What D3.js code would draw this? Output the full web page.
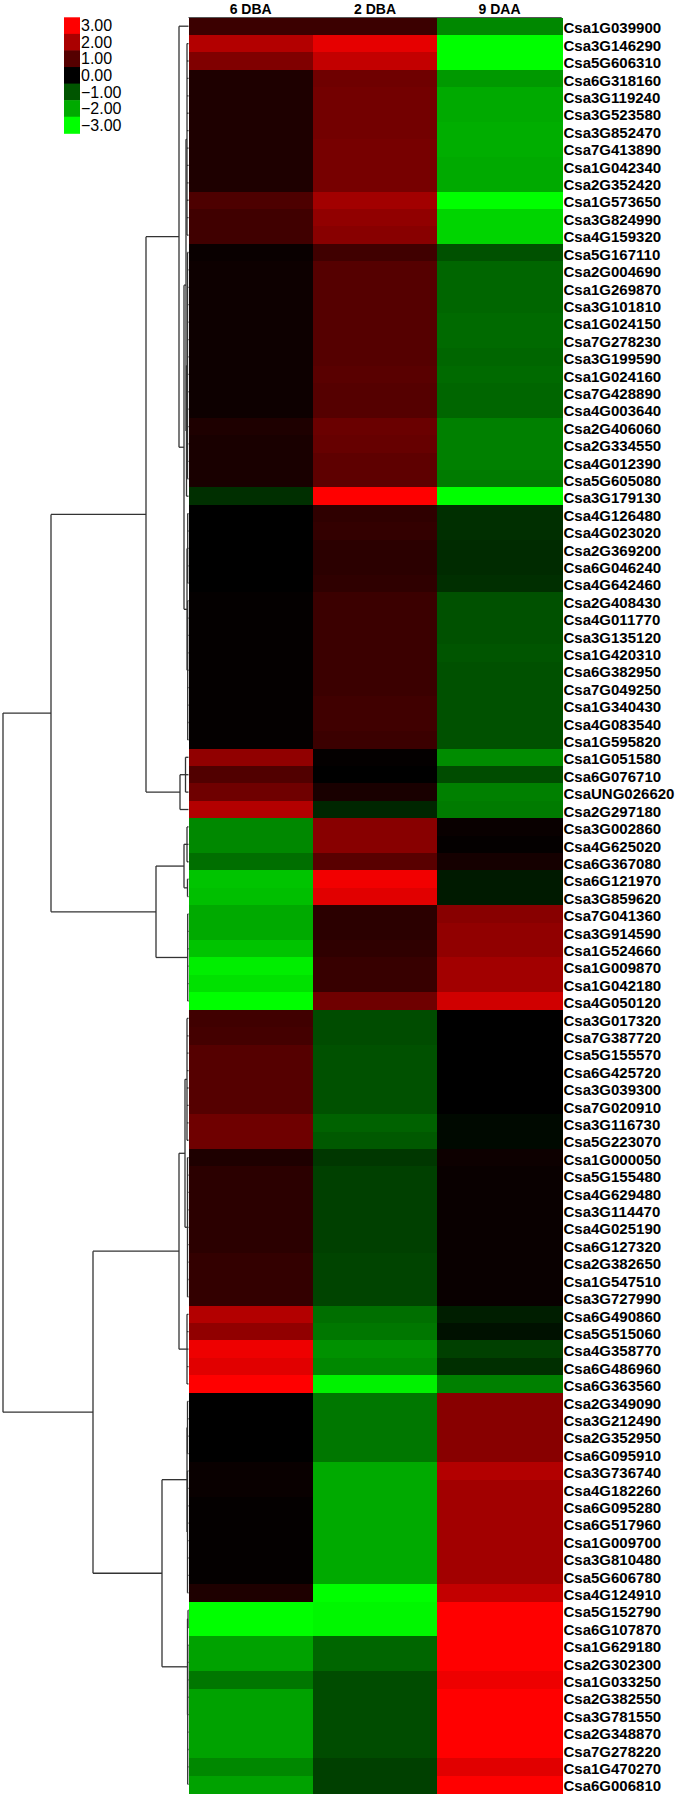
<!DOCTYPE html>
<html>
<head>
<meta charset="utf-8">
<script src="https://cdn.jsdelivr.net/npm/d3@7"></script>
<style>
  body { margin: 0; background: #fff; }
  svg { display: block; }
</style>
</head>
<body>
<div id="chart"></div>
<script>
// samples (columns)
const samples = ["6 DBA", "2 DBA", "9 DAA"];

// genes (rows, top to bottom)
const genes = [
  "Csa1G039900","Csa3G146290","Csa5G606310","Csa6G318160","Csa3G119240","Csa3G523580","Csa3G852470","Csa7G413890",
  "Csa1G042340","Csa2G352420","Csa1G573650","Csa3G824990","Csa4G159320","Csa5G167110","Csa2G004690","Csa1G269870",
  "Csa3G101810","Csa1G024150","Csa7G278230","Csa3G199590","Csa1G024160","Csa7G428890","Csa4G003640","Csa2G406060",
  "Csa2G334550","Csa4G012390","Csa5G605080","Csa3G179130","Csa4G126480","Csa4G023020","Csa2G369200","Csa6G046240",
  "Csa4G642460","Csa2G408430","Csa4G011770","Csa3G135120","Csa1G420310","Csa6G382950","Csa7G049250","Csa1G340430",
  "Csa4G083540","Csa1G595820","Csa1G051580","Csa6G076710","CsaUNG026620","Csa2G297180","Csa3G002860","Csa4G625020",
  "Csa6G367080","Csa6G121970","Csa3G859620","Csa7G041360","Csa3G914590","Csa1G524660","Csa1G009870","Csa1G042180",
  "Csa4G050120","Csa3G017320","Csa7G387720","Csa5G155570","Csa6G425720","Csa3G039300","Csa7G020910","Csa3G116730",
  "Csa5G223070","Csa1G000050","Csa5G155480","Csa4G629480","Csa3G114470","Csa4G025190","Csa6G127320","Csa2G382650",
  "Csa1G547510","Csa3G727990","Csa6G490860","Csa5G515060","Csa4G358770","Csa6G486960","Csa6G363560","Csa2G349090",
  "Csa3G212490","Csa2G352950","Csa6G095910","Csa3G736740","Csa4G182260","Csa6G095280","Csa6G517960","Csa1G009700",
  "Csa3G810480","Csa5G606780","Csa4G124910","Csa5G152790","Csa6G107870","Csa1G629180","Csa2G302300","Csa1G033250",
  "Csa2G382550","Csa3G781550","Csa2G348870","Csa7G278220","Csa1G470270","Csa6G006810"
];

// log2 values per sample, same order as genes
const v6DBA = [
  0.7, 2.1, 1.5, 0.35, 0.35, 0.35, 0.35, 0.35, 0.35, 0.35, 0.9, 0.75, 0.75, 0.1, 0.15, 0.15,
  0.15, 0.15, 0.15, 0.15, 0.15, 0.15, 0.15, 0.35, 0.3, 0.3, 0.3, -0.55, 0.0, 0.0, 0.0, 0.0,
  0.0, 0.05, 0.05, 0.05, 0.05, 0.05, 0.05, 0.05, 0.05, 0.05, 1.7, 0.95, 1.3, 2.1, -1.6, -1.6,
  -1.3, -2.3, -2.25, -2.0, -2.0, -2.3, -2.8, -2.65, -3.0, 0.75, 0.8, 1.0, 1.0, 1.0, 1.0, 1.3,
  1.3, 0.35, 0.5, 0.5, 0.5, 0.5, 0.5, 0.6, 0.6, 0.6, 2.1, 1.7, 2.8, 2.65, 3.0, 0.0,
  0.0, 0.0, 0.0, 0.1, 0.1, 0.05, 0.05, 0.05, 0.05, 0.05, 0.35, -3.0, -3.0, -1.9, -1.9, -1.4,
  -1.9, -1.9, -1.9, -1.9, -1.6, -1.9
];
const v2DBA = [
  0.7, 2.7, 2.3, 1.3, 1.35, 1.35, 1.35, 1.4, 1.4, 1.4, 1.9, 1.7, 1.6, 0.75, 1.0, 1.0,
  1.0, 1.0, 1.0, 1.0, 1.05, 1.0, 1.0, 1.25, 1.2, 1.1, 1.1, 3.0, 0.55, 0.6, 0.5, 0.5,
  0.55, 0.7, 0.7, 0.7, 0.7, 0.7, 0.7, 0.75, 0.75, 0.7, 0.05, 0.0, 0.3, -0.45, 1.6, 1.6,
  1.05, 2.85, 2.65, 0.5, 0.5, 0.55, 0.65, 0.65, 1.3, -0.9, -0.9, -0.95, -0.95, -0.95, -0.95, -1.15,
  -1.05, -0.65, -0.75, -0.75, -0.75, -0.75, -0.75, -0.8, -0.8, -0.8, -1.3, -1.4, -1.7, -1.6, -2.85, -1.4,
  -1.4, -1.4, -1.4, -2.0, -2.0, -2.0, -2.0, -2.0, -2.0, -2.0, -3.0, -2.9, -2.9, -1.2, -1.2, -0.9,
  -0.9, -0.9, -0.9, -0.9, -0.75, -0.75
];
const v9DAA = [
  -1.6, -3.0, -3.0, -1.8, -2.0, -2.0, -2.05, -2.05, -2.0, -2.0, -3.0, -2.5, -2.5, -0.95, -1.2, -1.2,
  -1.2, -1.25, -1.25, -1.2, -1.25, -1.2, -1.2, -1.5, -1.5, -1.5, -1.45, -3.0, -0.55, -0.55, -0.5, -0.5,
  -0.55, -0.95, -0.95, -0.95, -1.0, -0.95, -0.95, -0.95, -0.95, -0.95, -1.65, -0.9, -1.5, -1.45, 0.1, 0.05,
  0.25, -0.3, -0.3, 1.6, 1.7, 1.7, 1.9, 1.9, 2.45, 0.0, 0.0, 0.0, 0.0, 0.0, 0.0, -0.1,
  -0.1, 0.15, 0.1, 0.1, 0.1, 0.1, 0.1, 0.1, 0.1, 0.1, -0.35, -0.2, -0.75, -0.55, -1.5, 1.6,
  1.6, 1.6, 1.6, 2.1, 1.9, 1.9, 1.9, 1.9, 1.9, 1.9, 2.3, 3.0, 3.0, 3.0, 3.0, 2.8,
  3.0, 3.0, 3.0, 3.0, 2.65, 3.0
];

// legend steps
const legendSteps = [3, 2, 1, 0, -1, -2, -3];

// hierarchical clustering of rows: h = linkage distance, c = children (numbers = gene row, 1-based)
const rowTree = {h: 185.5, c: [
  {h: 137.5, c: [
    {h: 42.5, c: [
      {h: 9.5, c: [1,
        {h: 4.5, c: [
          {h: 2.5, c: [
            {h: 1.5, c: [2, 3, 4, 5, 6, 7, 8, 9, 10, 11, 12, 13]},
            {h: 2, c: [
              {h: 1, c: [14, 15, 16, 17, 18, 19, 20, 21, 22, 23, 24, 25, 26, 27]},
              28]}
          ]},
          {h: 1.5, c: [
            {h: 0.8, c: [29, 30, 31, 32, 33]},
            {h: 0.8, c: [34, 35, 36, 37, 38, 39, 40, 41, 42]}
          ]}
        ]}
      ]},
      {h: 8.5, c: [{h: 3, c: [43, 44, 45]}, 46]}
    ]},
    {h: 32.5, c: [
      {h: 4.5, c: [{h: 1.5, c: [47, 48, 49]}, {h: 1, c: [50, 51]}]},
      {h: 0.8, c: [52, 53, 54, 55, 56, 57]}
    ]}
  ]},
  {h: 95.5, c: [
    {h: 9.5, c: [
      {h: 3.5, c: [
        {h: 1.5, c: [58, 59, 60, 61, 62, 63, 64, 65]},
        {h: 1, c: [66, 67, 68, 69, 70, 71, 72, 73, 74]}
      ]},
      {h: 1.5, c: [75, 76, 77, 78, 79]}
    ]},
    {h: 26.5, c: [
      {h: 1.5, c: [{h: 1, c: [80, 81, 82, 83]}, {h: 1, c: [84, 85, 86, 87, 88, 89, 90, 91]}]},
      {h: 1, c: [{h: 0.5, c: [92, 93]}, {h: 0.8, c: [94, 95, 96, 97, 98, 99, 100, 101, 102]}]}
    ]}
  ]}
]};

// table built from the series
const series = [v6DBA, v2DBA, v9DAA];
const cells = [];
genes.forEach((g, i) => {
  samples.forEach((s, j) => cells.push({gene: g, sample: s, value: series[j][i]}));
});

const width = 675;
const height = 1802;
const fontLabel = "'Liberation Sans', Arial, sans-serif";

const svg = d3.select("#chart")
  .append("svg")
  .attr("width", width)
  .attr("height", height);

// scales
const x = d3.scaleBand().domain(samples).range([188.5, 561.7]);
const y = d3.scaleBand().domain(genes).range([17.5, 1793]);
const color = d3.scaleLinear()
  .domain([-3, 0, 3])
  .range(["#00ff00", "#000000", "#ff0000"])
  .clamp(true);
const xDist = d3.scaleLinear().domain([0, 185.5]).range([188.5, 3]);

// dendrogram
const root = d3.hierarchy(rowTree, d => Array.isArray(d.c)
  ? d.c.map(k => typeof k === "number" ? {leaf: k} : k)
  : null);

root.eachAfter(n => {
  if (n.children) {
    n.py = d3.mean(n.children, c => c.py);
    n.px = xDist(n.data.h);
  } else {
    n.py = y(genes[n.data.leaf - 1]) + y.bandwidth() / 2;
    n.px = xDist(0);
  }
});

const dendro = svg.append("g")
  .attr("fill", "none")
  .attr("stroke", "#333")
  .attr("stroke-width", 1.3);

const inner = root.descendants().filter(n => n.children);

// verticals
dendro.selectAll("line.v")
  .data(inner)
  .enter()
  .append("line")
  .attr("class", "v")
  .attr("x1", d => d.px)
  .attr("x2", d => d.px)
  .attr("y1", d => d3.min(d.children, c => c.py))
  .attr("y2", d => d3.max(d.children, c => c.py));

// horizontals to each child
dendro.selectAll("line.h")
  .data(root.links())
  .enter()
  .append("line")
  .attr("class", "h")
  .attr("x1", d => d.source.px)
  .attr("x2", d => d.target.px)
  .attr("y1", d => d.target.py)
  .attr("y2", d => d.target.py);

// heatmap cells
svg.append("g")
  .attr("shape-rendering", "crispEdges")
  .selectAll("rect")
  .data(cells)
  .enter()
  .append("rect")
  .attr("x", d => x(d.sample))
  .attr("y", d => y(d.gene))
  .attr("width", x.bandwidth() + 1)
  .attr("height", y.bandwidth() + 1)
  .attr("fill", d => color(d.value));

// top edge of heatmap
svg.append("line")
  .attr("x1", x.range()[0])
  .attr("x2", x.range()[1])
  .attr("y1", y.range()[0])
  .attr("y2", y.range()[0])
  .attr("stroke", "#555")
  .attr("stroke-width", 1);

// column headers
svg.append("g")
  .selectAll("text")
  .data(samples)
  .enter()
  .append("text")
  .attr("x", d => x(d) + x.bandwidth() / 2)
  .attr("y", 14)
  .attr("text-anchor", "middle")
  .style("font-family", fontLabel)
  .style("font-weight", "bold")
  .style("font-size", "14px")
  .text(d => d);

// gene labels
svg.append("g")
  .selectAll("text")
  .data(genes)
  .enter()
  .append("text")
  .attr("x", 563.5)
  .attr("y", d => y(d) + y.bandwidth() / 2)
  .attr("dy", "0.48em")
  .style("font-family", fontLabel)
  .style("font-weight", "bold")
  .style("font-size", "15px")
  .text(d => d);

// legend
const ly = d3.scaleBand().domain(legendSteps).range([17.3, 133.3]);
const legend = svg.append("g");

legend.selectAll("rect")
  .data(legendSteps)
  .enter()
  .append("rect")
  .attr("x", 64)
  .attr("y", d => ly(d))
  .attr("width", 16)
  .attr("height", ly.bandwidth() + 0.5)
  .attr("fill", d => color(d));

legend.selectAll("text")
  .data(legendSteps)
  .enter()
  .append("text")
  .attr("x", 81)
  .attr("y", d => ly(d) + ly.bandwidth() / 2)
  .attr("dy", "0.36em")
  .style("font-family", fontLabel)
  .style("font-size", "16px")
  .text(d => d3.format(".2f")(d));
</script>
</body>
</html>
